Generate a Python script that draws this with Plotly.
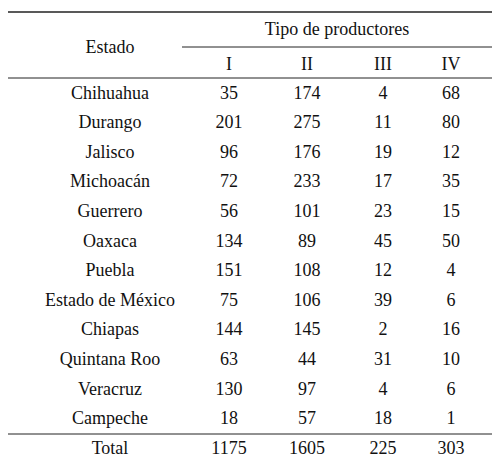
import plotly.graph_objects as go

estados = ["Chihuahua", "Durango", "Jalisco", "Michoacán", "Guerrero", "Oaxaca",
           "Puebla", "Estado de México", "Chiapas", "Quintana Roo", "Veracruz",
           "Campeche", "Total"]
tipo_i = [35, 201, 96, 72, 56, 134, 151, 75, 144, 63, 130, 18, 1175]
tipo_ii = [174, 275, 176, 233, 101, 89, 108, 106, 145, 44, 97, 57, 1605]
tipo_iii = [4, 11, 19, 17, 23, 45, 12, 39, 2, 31, 4, 18, 225]
tipo_iv = [68, 80, 12, 35, 15, 50, 4, 6, 16, 10, 6, 1, 303]
columnas = ["I", "II", "III", "IV"]

col_x = [110, 229, 307, 383, 451]
row_y = [86 + i * 29.6 for i in range(len(estados))]

fig = go.Figure()
font = dict(family="Liberation Serif, Times New Roman, serif", size=18, color="#111")

xs, ys, ts = [], [], []
for j, serie in enumerate([estados, tipo_i, tipo_ii, tipo_iii, tipo_iv]):
    for i, v in enumerate(serie):
        xs.append(col_x[j]); ys.append(row_y[i]); ts.append(str(v))
# encabezados
xs += [110, 337] + col_x[1:]
ys += [40, 22] + [57] * 4
ts += ["Estado", "Tipo de productores"] + columnas

fig.add_trace(go.Scatter(x=xs, y=ys, text=ts, mode="text", textfont=font,
                         hoverinfo="skip", showlegend=False))

for y0, x0, x1, w in [(4, 8, 492, 1.5), (39, 182, 492, 1), (70, 8, 492, 1),
                      (426, 8, 492, 1), (456, 8, 492, 1.5)]:
    fig.add_shape(type="line", x0=x0, x1=x1, y0=y0, y1=y0,
                  line=dict(color="#222", width=w))

# la página tiene un margen de 8 px, se compensa en los rangos
fig.update_xaxes(range=[8, 508], visible=False)
fig.update_yaxes(range=[471, 8 - 8], visible=False)
fig.update_layout(width=500, height=471, margin=dict(l=0, r=0, t=0, b=0),
                  plot_bgcolor="white", paper_bgcolor="white")
fig.write_html("out.html")
